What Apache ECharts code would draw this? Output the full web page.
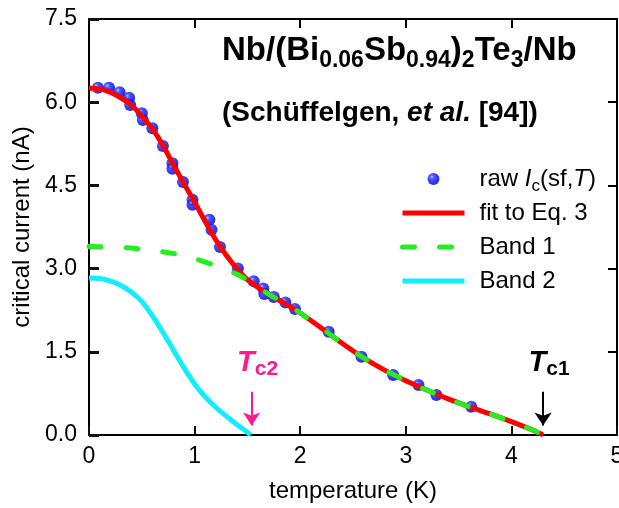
<!DOCTYPE html>
<html><head><meta charset="utf-8">
<script src="https://cdn.jsdelivr.net/npm/echarts@6/dist/echarts.min.js"></script>
<style>html,body{margin:0;padding:0;background:#fff}#c{width:619px;height:508px}</style>
</head><body><div id="c"></div>
<script>
// ---- data ----
const rawT  = [0.085,0.19,0.29,0.38,0.39,0.50,0.51,0.60,0.70,0.79,0.79,0.89,0.98,0.98,1.14,1.16,1.24,1.41,1.56,1.65,1.66,1.75,1.86,1.95,2.27,2.58,2.88,3.12,3.29,3.62];
const rawIc = [6.26,6.26,6.18,6.08,5.95,5.80,5.68,5.53,5.21,4.90,4.80,4.56,4.24,4.15,3.88,3.70,3.39,3.00,2.77,2.64,2.54,2.49,2.39,2.27,1.86,1.41,1.08,0.90,0.72,0.51];

const fitT  = [0,0.1,0.2,0.3,0.4,0.5,0.6,0.7,0.8,0.9,1.0,1.1,1.2,1.3,1.4,1.5,1.6,1.7,1.8,1.9,2.0,2.2,2.4,2.6,2.8,3.0,3.2,3.4,3.6,3.8,4.0,4.2,4.3];
const fitIc = [6.25,6.24,6.18,6.08,5.95,5.75,5.52,5.22,4.87,4.53,4.20,3.85,3.52,3.24,3.00,2.80,2.66,2.54,2.43,2.32,2.20,1.93,1.65,1.39,1.17,0.98,0.81,0.65,0.51,0.38,0.24,0.09,0.0];

const band1T  = [0,0.2,0.4,0.6,0.8,1.0,1.2,1.4,1.5,1.6,1.7,1.8,1.9,2.0,2.2,2.4,2.6,2.8,3.0,3.2,3.4,3.6,3.8,4.0,4.2,4.3];
const band1Ic = [3.40,3.39,3.37,3.33,3.27,3.18,3.05,2.90,2.79,2.67,2.54,2.43,2.32,2.20,1.93,1.65,1.39,1.17,0.98,0.81,0.65,0.51,0.38,0.24,0.09,0.0];

const band2T  = [0,0.1,0.2,0.3,0.4,0.5,0.6,0.7,0.8,0.9,1.0,1.1,1.2,1.3,1.4,1.5,1.53];
const band2Ic = [2.83,2.82,2.78,2.70,2.58,2.41,2.15,1.85,1.53,1.21,0.92,0.69,0.50,0.34,0.19,0.05,0.0];

const xTicks = [0,1,2,3,4,5];
const yTicks = ['0.0','1.5','3.0','4.5','6.0','7.5'];
const Tc1 = 4.30, Tc2 = 1.54;
const arrowTop = 0.78, arrowEnd = 0.17;

const zip = (a,b) => a.map((v,i)=>[v,b[i]]);
const F = '"Liberation Sans", Arial, Helvetica, sans-serif';

const sphere = {type:'radial', x:0.36, y:0.33, r:0.72,
  colorStops:[{offset:0,color:'#a8b0ff'},{offset:0.25,color:'#2030ff'},{offset:0.7,color:'#0000ee'},{offset:1,color:'#0000b8'}]};

function frameAxis(extra) {
  return Object.assign({
    type:'value',
    axisLine:{show:true,onZero:false,lineStyle:{color:'#000',width:2}},
    minorTick:{show:false},
    splitLine:{show:false}
  }, extra);
}
const tickStyle = (c, len, w) => ({show:true,inside:true,length:len,lineStyle:{color:c,width:w}});

const chart = echarts.init(document.getElementById('c'), null, {renderer:'canvas'});
chart.setOption({
  animation:false,
  backgroundColor:'#fff',
  grid:{left:89,right:2,top:19,bottom:73,containLabel:false,outerBoundsMode:'none'},
  xAxis:[
    frameAxis({min:xTicks[0],max:xTicks[xTicks.length-1],interval:1,position:'bottom',
      axisTick:tickStyle('#111111', 9, 2),
      axisLabel:{color:'#000',fontSize:23,fontFamily:F,margin:10,showMaxLabel:true,hideOverlap:false},
      name:'temperature (K)',nameLocation:'middle',nameGap:44,
      nameTextStyle:{color:'#000',fontSize:24,fontFamily:F}}),
    frameAxis({min:0,max:5,interval:1,position:'top',axisTick:tickStyle('#000', 9, 2),axisLabel:{show:false}})
  ],
  yAxis:[
    frameAxis({min:0,max:7.5,interval:1.5,position:'left',
      axisTick:tickStyle('#111111', 10, 3),
      axisLabel:{color:'#000',fontSize:23,fontFamily:F,margin:12,formatter:(v)=>yTicks[Math.round(v/1.5)]},
      name:'critical current (nA)',nameLocation:'middle',nameGap:50,
      nameTextStyle:{color:'#000',fontSize:24,fontFamily:F}}),
    frameAxis({min:0,max:7.5,interval:1.5,position:'right',axisTick:tickStyle('#000', 9, 2),axisLabel:{show:false}})
  ],
  legend:{
    orient:'vertical', left:395, top:158, itemWidth:62, itemHeight:12, itemGap:2,
    lineStyle:{width:5},
    data:[{name:'raw'},
          {name:'fit to Eq. 3',itemStyle:{opacity:0}},
          {name:'Band 1',itemStyle:{opacity:0}},
          {name:'Band 2',itemStyle:{opacity:0}}],
    textStyle:{color:'#000',fontSize:24,fontFamily:F,lineHeight:32,padding:[0,0,0,10],
      rich:{
        n:{fontSize:24,fontFamily:F,color:'#000',lineHeight:32},
        i:{fontSize:24,fontFamily:F,color:'#000',fontStyle:'italic',lineHeight:32},
        s:{fontSize:17,fontFamily:F,color:'#000',lineHeight:14,verticalAlign:'bottom'}
      }},
    formatter:(name)=> name==='raw' ? '{n|raw }{i|I}{s|c}{n|(sf,}{i|T}{n|)}' : '{n|'+name+'}'
  },
  series:[
    {name:'raw',type:'scatter',data:zip(rawT,rawIc),symbol:'circle',symbolSize:12,
      itemStyle:{color:sphere},z:2},
    {name:'fit to Eq. 3',type:'line',data:zip(fitT,fitIc),smooth:0.3,symbol:'none',
      lineStyle:{color:'#ff0000',width:5},itemStyle:{color:'#ff0000'},z:3,
      markLine:{silent:true,symbol:['none','arrow'],symbolSize:13,
        lineStyle:{color:'#000',width:2,type:'solid'},
        label:{show:true,position:'start',distance:12,padding:[0,0,0,12],formatter:'{t|T}{s|c1}',
          rich:{t:{fontSize:29,fontWeight:'bold',fontStyle:'italic',fontFamily:F,color:'#000',lineHeight:34},
                s:{fontSize:21,fontWeight:'bold',fontFamily:F,color:'#000',lineHeight:18,verticalAlign:'bottom'}}},
        data:[[{coord:[Tc1,arrowTop]},{coord:[Tc1,arrowEnd]}]]}},
    {name:'Band 1',type:'line',data:zip(band1T,band1Ic),smooth:0.3,symbol:'none',
      lineStyle:{color:'#22ee22',width:5,type:[12,25],cap:'round'},itemStyle:{color:'#22ee22'},z:4},
    {name:'Band 2',type:'line',data:zip(band2T,band2Ic),smooth:0.3,symbol:'none',
      lineStyle:{color:'#11eeff',width:5},itemStyle:{color:'#11eeff'},z:4,
      markLine:{silent:true,symbol:['none','arrow'],symbolSize:13,
        lineStyle:{color:'#ff1a8c',width:2,type:'solid'},
        label:{show:true,position:'start',distance:12,padding:[0,0,0,12],formatter:'{t|T}{s|c2}',
          rich:{t:{fontSize:29,fontWeight:'bold',fontStyle:'italic',fontFamily:F,color:'#ff1a8c',lineHeight:34},
                s:{fontSize:21,fontWeight:'bold',fontFamily:F,color:'#ff1a8c',lineHeight:18,verticalAlign:'bottom'}}},
        data:[[{coord:[Tc2,arrowTop]},{coord:[Tc2,arrowEnd]}]]}}
  ],
  graphic:[
    {type:'text',left:222,top:34,z:10,style:{
      text:'{m|Nb/(Bi}{s|0.06}{m|Sb}{s|0.94}{m|)}{s|2}{m|Te}{s|3}{m|/Nb}',
      rich:{m:{fontSize:33,fontWeight:'bold',fontFamily:F,fill:'#000',lineHeight:44},
            s:{fontSize:23,fontWeight:'bold',fontFamily:F,fill:'#000',lineHeight:22,verticalAlign:'bottom'}}}},
    {type:'text',left:222,top:99,z:10,style:{
      text:'{b|(Schüffelgen, }{bi|et al.}{b| [94])}',
      rich:{b:{fontSize:28,fontWeight:'bold',fontFamily:F,fill:'#000',lineHeight:30},
            bi:{fontSize:28,fontWeight:'bold',fontStyle:'italic',fontFamily:F,fill:'#000',lineHeight:30}}}}
  ]
});
</script></body></html>
